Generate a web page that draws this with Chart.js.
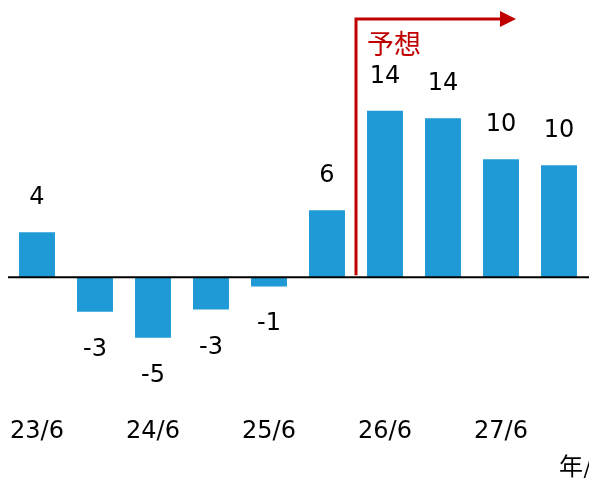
<!DOCTYPE html>
<html>
<head>
<meta charset="utf-8">
<script src="https://cdn.jsdelivr.net/npm/chart.js@4/dist/chart.umd.min.js"></script>
<style>
  html, body { margin: 0; padding: 0; background: #fff; }
  #wrap { width: 589px; height: 478px; }
</style>
</head>
<body>
<div id="wrap"><canvas id="chart" width="589" height="478"></canvas></div>
<script>
// half-year periods, only the June ones get a label on the axis
const periods = ['23/6', '23/12', '24/6', '24/12', '25/6', '25/12', '26/6', '26/12', '27/6', '27/12'];
const values = [3.9, -3.0, -5.25, -2.8, -0.8, 5.8, 14.4, 13.75, 10.2, 9.7];
const shownTicks = ['23/6', '24/6', '25/6', '26/6', '27/6'];
const forecastFrom = 6;           // index of first forecast bar
const forecastText = '予想';
const axisTitle = '年/月';

const barColor = '#1f9ad6';
const red = '#c00000';
const font = 'DejaVu Sans';
const cjkFont = '"Noto Sans CJK JP"';

const overlay = {
    id: 'overlay',
    afterDatasetsDraw(chart) {
        const { ctx, chartArea, scales } = chart;
        const x = scales.x, y = scales.y;
        const zeroY = y.getPixelForValue(0);
        ctx.save();

        // zero line
        ctx.strokeStyle = '#000';
        ctx.lineWidth = 2;
        ctx.beginPath();
        ctx.moveTo(chartArea.left, zeroY);
        ctx.lineTo(chart.width, zeroY);
        ctx.stroke();

        // value labels
        ctx.fillStyle = '#000';
        ctx.font = '24px ' + font;
        ctx.textAlign = 'center';
        ctx.textBaseline = 'alphabetic';
        chart.getDatasetMeta(0).data.forEach((bar, i) => {
            const v = values[i];
            const label = String(Math.round(v));
            if (v >= 0) {
                ctx.fillText(label, bar.x, bar.y - 28);
            } else {
                ctx.fillText(label, bar.x, bar.y + 44);
            }
        });

        // forecast arrow
        const lx = x.getPixelForValue(forecastFrom - 0.5);
        const topY = 19;
        const endX = lx + 144;
        ctx.strokeStyle = red;
        ctx.fillStyle = red;
        ctx.lineWidth = 3;
        ctx.beginPath();
        ctx.moveTo(lx, zeroY - 2);
        ctx.lineTo(lx, topY);
        ctx.lineTo(endX, topY);
        ctx.stroke();
        ctx.beginPath();
        ctx.moveTo(endX, topY - 8);
        ctx.lineTo(endX + 16, topY);
        ctx.lineTo(endX, topY + 8);
        ctx.closePath();
        ctx.fill();

        ctx.font = '27px ' + cjkFont;
        ctx.textAlign = 'left';
        ctx.textBaseline = 'middle';
        ctx.fillText(forecastText, lx + 11, 44);

        // axis title, cut off at the right edge like the source
        ctx.fillStyle = '#000';
        ctx.font = '24px ' + cjkFont;
        ctx.textBaseline = 'top';
        ctx.fillText(axisTitle, chartArea.right - 29, 454);

        ctx.restore();
    }
};

new Chart(document.getElementById('chart'), {
    type: 'bar',
    data: {
        labels: periods,
        datasets: [{
            data: values,
            backgroundColor: barColor,
            borderWidth: 0,
            categoryPercentage: 1,
            barPercentage: 0.62
        }]
    },
    options: {
        responsive: false,
        animation: false,
        layout: { padding: { left: 8, right: 1, top: 0, bottom: 19 } },
        plugins: {
            legend: { display: false },
            tooltip: { enabled: false }
        },
        scales: {
            x: {
                grid: { display: false, drawTicks: false },
                border: { display: false },
                afterFit: (scale) => {
                    scale.paddingLeft = 0;
                    scale.paddingRight = 0;
                },
                ticks: {
                    autoSkip: false,
                    maxRotation: 0,
                    padding: 13,
                    color: '#000',
                    font: { family: font, size: 24 },
                    callback: (val, i) => shownTicks.includes(periods[i]) ? periods[i] : ''
                }
            },
            y: {
                display: false,
                min: -11,
                max: 24
            }
        }
    },
    plugins: [overlay]
});
</script>
</body>
</html>
